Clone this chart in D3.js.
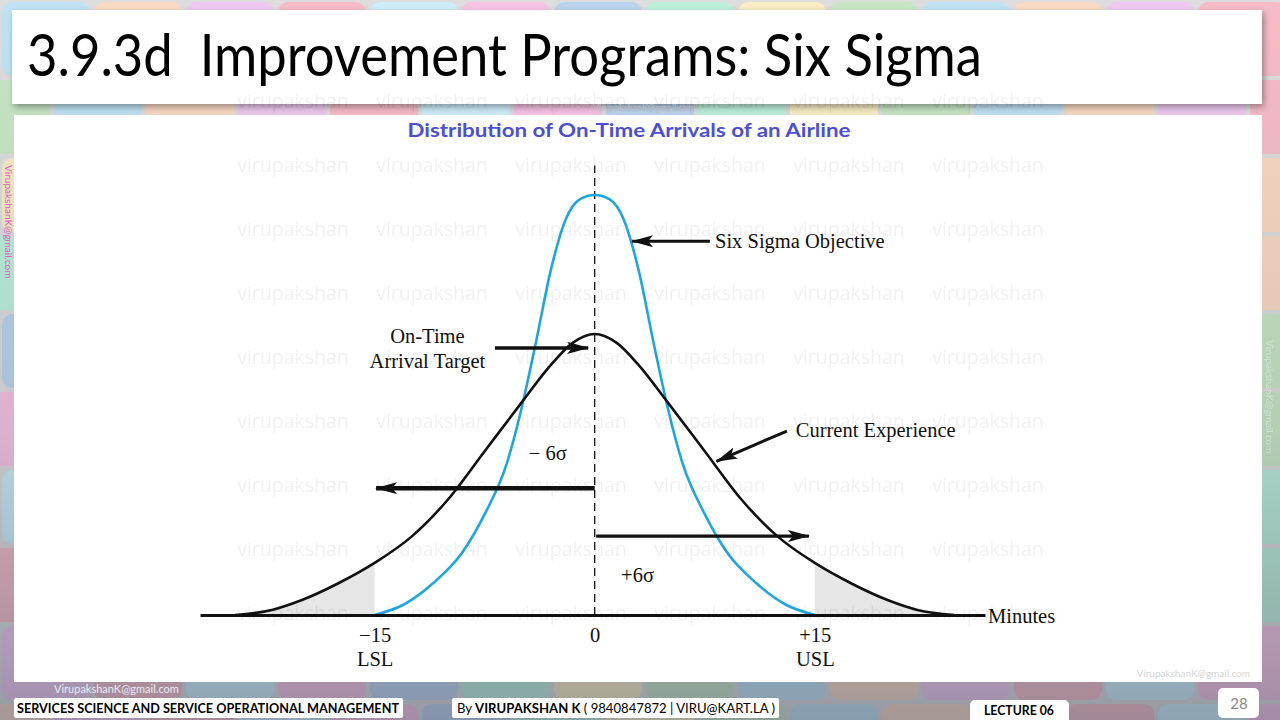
<!DOCTYPE html>
<html>
<head>
<meta charset="utf-8">
<title>3.9.3d Improvement Programs: Six Sigma</title>
<script src="https://d3js.org/d3.v7.min.js"></script>
<style>
  body { margin: 0; width: 1280px; height: 720px; overflow: hidden; background: #ddd; }
  svg { display: block; }
  .serif { font-family: "Liberation Serif", "DejaVu Serif", serif; fill: #111; }
  .sans { font-family: Lato, "Open Sans", sans-serif; }
</style>
</head>
<body>
<svg id="slide" width="1280" height="720"></svg>
<script>
// readings from the picture: minutes from target, height relative to the Six Sigma peak
const currentMinutes = [-24.5, -22, -20, -17.5, -15, -12.5, -10, -7.5, -5, -3, -1.5, 0, 1.5, 3, 5, 7.5, 10, 12.5, 15, 17.5, 20, 22, 24.5];
const currentHeight  = [0, 0.012, 0.035, 0.075, 0.124, 0.186, 0.275, 0.39, 0.505, 0.595, 0.648, 0.669, 0.648, 0.595, 0.505, 0.39, 0.275, 0.186, 0.124, 0.075, 0.035, 0.012, 0];
const sigmaMinutes = [-15, -13, -11, -9, -7.5, -6, -5, -4, -3, -2, -1, 0, 1, 2, 3, 4, 5, 6, 7.5, 9, 11, 13, 15];
const sigmaHeight  = [0, 0.025, 0.076, 0.15, 0.24, 0.36, 0.49, 0.65, 0.82, 0.94, 0.99, 1, 0.99, 0.94, 0.82, 0.65, 0.49, 0.36, 0.24, 0.15, 0.076, 0.025, 0];
const tickValues = [-15, 0, 15];
const tickLabels = ["\u221215", "0", "+15"];
const limitLabels = ["LSL", "", "USL"];
const axisExtent = [-26.9, 26.6];

const tileColors = ["#bfe3f3", "#bdf0dc", "#cdeefa", "#f9d9c2", "#f8edc4", "#f7c3e3", "#efc9f1", "#c8e6c4", "#bcd3ef", "#f6bcc8"];
const watermarkCols = [293, 432, 571, 710, 849, 988];
const watermarkRows = [101, 165, 229, 293, 357, 421, 485, 549, 613];

const svg = d3.select("#slide");
const defs = svg.append("defs");

defs.append("filter").attr("id", "shadow")
  .attr("x", "-5%").attr("y", "-20%").attr("width", "110%").attr("height", "150%")
  .append("feDropShadow")
  .attr("dx", 2).attr("dy", 3).attr("stdDeviation", 3)
  .attr("flood-color", "#000").attr("flood-opacity", 0.35);

defs.append("marker").attr("id", "head")
  .attr("markerUnits", "userSpaceOnUse")
  .attr("viewBox", "0 0 22 12")
  .attr("markerWidth", 22).attr("markerHeight", 12)
  .attr("refX", 21).attr("refY", 6)
  .attr("orient", "auto")
  .append("path").attr("d", "M0,0 L22,6 L0,12 L5,6 Z").attr("fill", "#111");

const fade = defs.append("linearGradient").attr("id", "fade")
  .attr("x1", 0).attr("y1", 0).attr("x2", 0).attr("y2", 1);
fade.append("stop").attr("offset", "0%").attr("stop-color", "#40485a").attr("stop-opacity", 0);
fade.append("stop").attr("offset", "60%").attr("stop-color", "#40485a").attr("stop-opacity", 0.15);
fade.append("stop").attr("offset", "100%").attr("stop-color", "#40485a").attr("stop-opacity", 0.45);

// tiled background
const tileW = 92, tileH = 78;
for (let r = 0; r < Math.ceil(720 / tileH); r++) {
  for (let c = 0; c < Math.ceil(1280 / tileW) + 1; c++) {
    const off = (r % 2) * 40;
    svg.append("rect")
      .attr("x", c * tileW - off + 2).attr("y", r * tileH + 2)
      .attr("width", tileW - 4).attr("height", tileH - 4)
      .attr("rx", 10)
      .attr("fill", tileColors[(c * 3 + r * 7) % tileColors.length]);
  }
}
svg.append("rect").attr("x", 0).attr("y", 0).attr("width", 1280).attr("height", 720).attr("fill", "url(#fade)");

// side watermarks
svg.append("text").attr("class", "sans")
  .attr("transform", "translate(5,165) rotate(90)")
  .attr("font-size", 10).attr("fill", "#e05cbf")
  .text("VirupakshanK@gmail.com");
svg.append("text").attr("class", "sans")
  .attr("transform", "translate(1266,340) rotate(90)")
  .attr("font-size", 10).attr("fill", "#ffffff").attr("opacity", 0.35)
  .text("VirupakshanK@gmail.com");

// title bar
svg.append("rect").attr("x", 12).attr("y", 10).attr("width", 1250).attr("height", 94)
  .attr("fill", "#fff").attr("filter", "url(#shadow)");
svg.append("text").attr("class", "sans")
  .attr("x", 27).attr("y", 76)
  .attr("font-size", 58).attr("fill", "#000")
  .attr("textLength", 955).attr("lengthAdjust", "spacingAndGlyphs")
  .style("white-space", "pre")
  .text("3.9.3d  Improvement Programs: Six Sigma");

// chart panel
svg.append("rect").attr("x", 14).attr("y", 115).attr("width", 1248).attr("height", 567).attr("fill", "#fff");
svg.append("text").attr("class", "sans")
  .attr("x", 629).attr("y", 137).attr("text-anchor", "middle")
  .attr("font-size", 19).attr("font-weight", "bold").attr("fill", "#4b4fd6")
  .attr("textLength", 443).attr("lengthAdjust", "spacingAndGlyphs")
  .text("Distribution of On-Time Arrivals of an Airline");

const x = d3.scaleLinear().domain(axisExtent).range([200, 985]);
const y = d3.scaleLinear().domain([0, 1]).range([615, 195]);

const current = currentMinutes.map((m, i) => [m, currentHeight[i]]);
const sigma = sigmaMinutes.map((m, i) => [m, sigmaHeight[i]]);

const area = d3.area().x(d => x(d[0])).y0(y(0)).y1(d => y(d[1])).curve(d3.curveMonotoneX);
const line = d3.line().x(d => x(d[0])).y(d => y(d[1])).curve(d3.curveMonotoneX);

const chart = svg.append("g");

// tails outside the spec limits
chart.append("path").datum(current.filter(d => d[0] <= tickValues[0]))
  .attr("d", area).attr("fill", "#e6e6e6");
chart.append("path").datum(current.filter(d => d[0] >= tickValues[2]))
  .attr("d", area).attr("fill", "#e6e6e6");

// target line
chart.append("line")
  .attr("x1", x(0)).attr("x2", x(0))
  .attr("y1", y(0)).attr("y2", y(1.07))
  .attr("stroke", "#111").attr("stroke-width", 1.3)
  .attr("stroke-dasharray", "8,5");

chart.append("path").datum(sigma).attr("d", line)
  .attr("fill", "none").attr("stroke", "#1ea6e4").attr("stroke-width", 2.6);
chart.append("path").datum(current).attr("d", line)
  .attr("fill", "none").attr("stroke", "#111").attr("stroke-width", 2.6);

// axis
const axis = chart.append("g").attr("transform", `translate(0,${y(0)})`)
  .call(d3.axisBottom(x).tickValues(tickValues)
    .tickSizeInner(0).tickSizeOuter(0).tickPadding(12)
    .tickFormat((d, i) => tickLabels[i]));
axis.select(".domain").attr("stroke", "#111").attr("stroke-width", 3);
axis.selectAll(".tick text").attr("class", "serif").attr("font-size", 20.5).attr("fill", "#111");
axis.selectAll(".tick").append("text").attr("class", "serif")
  .attr("y", 51).attr("font-size", 20.5).attr("fill", "#111")
  .text((d, i) => limitLabels[i]);

chart.append("text").attr("class", "serif")
  .attr("x", x(axisExtent[1]) + 3).attr("y", y(0) + 8)
  .attr("font-size", 20.5).text("Minutes");

// annotations
function arrow(m1, h1, m2, h2, w) {
  chart.append("line")
    .attr("x1", x(m1)).attr("y1", y(h1))
    .attr("x2", x(m2)).attr("y2", y(h2))
    .attr("stroke", "#111").attr("stroke-width", w)
    .attr("marker-end", "url(#head)");
}
arrow(7.85, 0.890, 2.55, 0.890, 3);
arrow(-6.8, 0.636, -0.45, 0.636, 3.5);
arrow(13.1, 0.438, 8.3, 0.366, 3);
arrow(0, 0.302, -14.9, 0.302, 4.5);
arrow(0.1, 0.188, 14.6, 0.188, 3.2);

const label = (tx, ty, anchor, s) => chart.append("text").attr("class", "serif")
  .attr("x", tx).attr("y", ty).attr("text-anchor", anchor)
  .attr("font-size", 20.5).style("white-space", "pre").text(s);
label(x(8.2), y(0.873), "start", "Six Sigma Objective");
label(x(-11.4), y(0.648), "middle", "On-Time");
label(x(-11.4), y(0.588), "middle", "Arrival Target");
label(x(13.7), y(0.424), "start", "Current Experience");
label(x(-3.2), y(0.369), "middle", "\u2212 6\u03c3");
label(x(1.8), y(0.079), "start", "+6\u03c3");

// faint name watermark
const wm = svg.append("g").attr("font-family", "'Open Sans', 'Liberation Sans', sans-serif")
  .attr("font-size", 19.5)
  .attr("fill", "#000").attr("opacity", 0.055).attr("text-anchor", "middle");
watermarkRows.forEach(r => watermarkCols.forEach(c => {
  wm.append("text").attr("x", c).attr("y", r + 7).text("virupakshan");
}));

svg.append("text").attr("class", "sans").attr("x", 644).attr("y", 111)
  .attr("font-size", 9).attr("fill", "#bbb").attr("text-anchor", "middle")
  .text("VirupakshanK@gmail.com");
svg.append("text").attr("class", "sans").attr("x", 1250).attr("y", 677)
  .attr("font-size", 10).attr("fill", "#d4d4d4").attr("text-anchor", "end")
  .text("VirupakshanK@gmail.com");
svg.append("text").attr("class", "sans").attr("x", 54).attr("y", 693)
  .attr("font-size", 11).attr("fill", "#e8eef4")
  .text("VirupakshanK@gmail.com");

// footer labels
const foot = svg.append("g").attr("class", "sans");
foot.append("rect").attr("x", 14).attr("y", 698).attr("width", 389).attr("height", 20).attr("rx", 2).attr("fill", "#fff");
foot.append("text").attr("x", 17).attr("y", 713).attr("font-size", 13.5).attr("font-weight", "bold")
  .attr("textLength", 382).attr("lengthAdjust", "spacingAndGlyphs")
  .text("SERVICES SCIENCE AND SERVICE OPERATIONAL MANAGEMENT");

foot.append("rect").attr("x", 452).attr("y", 698).attr("width", 327).attr("height", 20).attr("rx", 2).attr("fill", "#fff");
const by = foot.append("text").attr("x", 457).attr("y", 713).attr("font-size", 13.5)
  .attr("textLength", 318).attr("lengthAdjust", "spacingAndGlyphs").style("white-space", "pre");
by.append("tspan").text("By ");
by.append("tspan").attr("font-weight", "bold").text("VIRUPAKSHAN K");
by.append("tspan").text(" ( 9840847872 | VIRU@KART.LA )");

foot.append("rect").attr("x", 970).attr("y", 700).attr("width", 99).attr("height", 24).attr("rx", 5).attr("fill", "#fff");
foot.append("text").attr("x", 1019).attr("y", 715).attr("text-anchor", "middle")
  .attr("font-size", 13.5).attr("font-weight", "bold")
  .attr("textLength", 70).attr("lengthAdjust", "spacingAndGlyphs").text("LECTURE 06");

foot.append("rect").attr("x", 1218).attr("y", 688).attr("width", 41).attr("height", 30).attr("rx", 5).attr("fill", "#fff");
foot.append("text").attr("x", 1239).attr("y", 709).attr("text-anchor", "middle")
  .attr("font-size", 15).attr("fill", "#888").text("28");
</script>
</body>
</html>
